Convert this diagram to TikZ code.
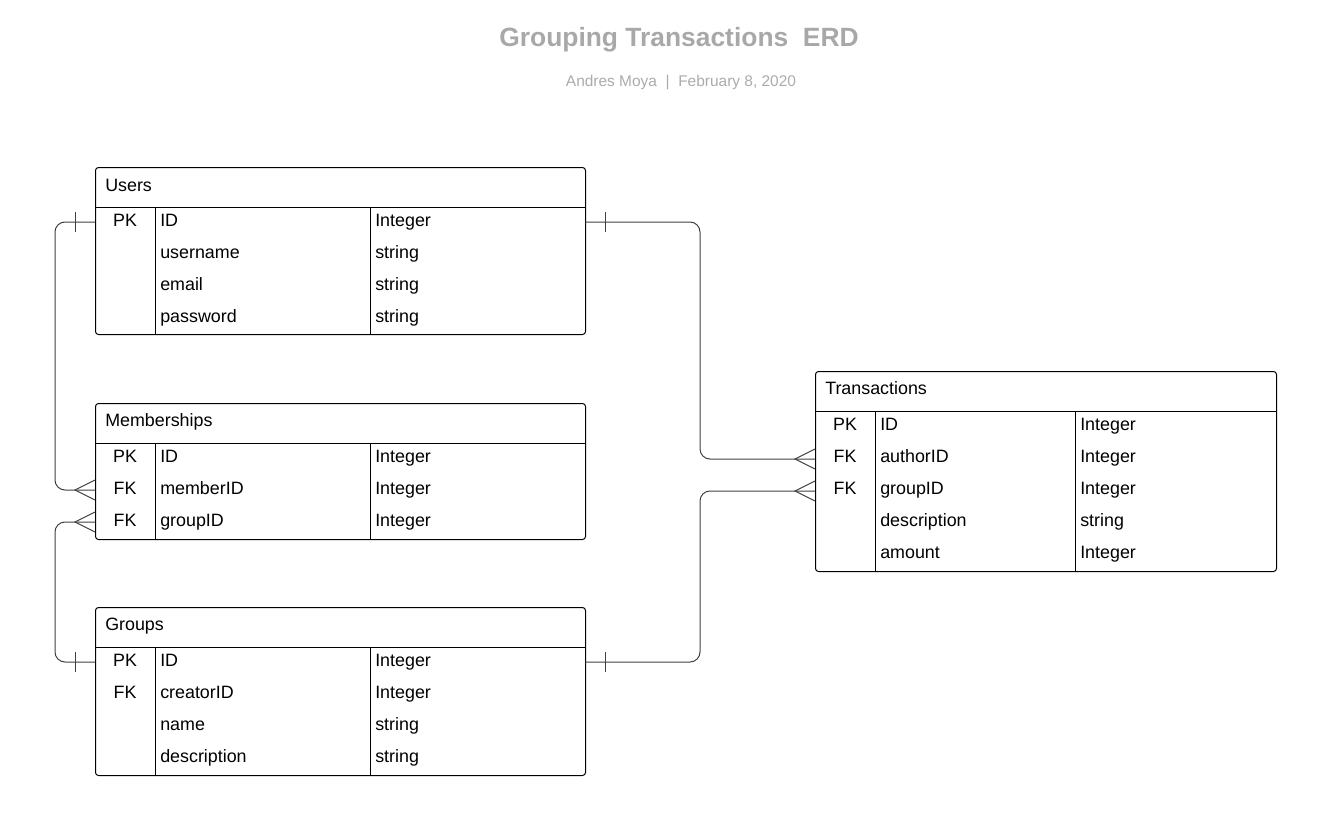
\documentclass[tikz,border=0pt]{standalone}
\usepackage{fontspec}
\setmainfont{Liberation Sans}
\definecolor{titlegray}{HTML}{A8A8A8}
\definecolor{subgray}{HTML}{ABABAB}
\definecolor{linegray}{HTML}{404040}
\begin{document}
\begin{tikzpicture}[x=0.75pt,y=-0.75pt,
  tbl/.style={draw=black, line width=0.75pt, rounded corners=2.25pt, anchor=north west, inner sep=0pt, fill=white},
  rule/.style={draw=black, line width=0.75pt},
  cell/.style={anchor=base west, inner sep=0pt, font=\fontsize{13.4}{15}\selectfont},
  keycell/.style={anchor=base, inner sep=0pt, font=\fontsize{13.4}{15}\selectfont},
  conn/.style={draw=linegray, line width=0.75pt, rounded corners=7.5pt},
  endline/.style={draw=linegray, line width=0.75pt},
]
\useasboundingbox (0,0) rectangle (1329,828);

% title
\node[anchor=base, inner sep=0pt, text=titlegray, font=\fontsize{19.8}{23}\selectfont\bfseries] (title) at (679,46) {Grouping Transactions\ \ ERD};
\node[anchor=base, inner sep=0pt, text=subgray, font=\fontsize{11.6}{14}\selectfont] (subtitle) at (681,86) {Andres Moya\ \ |\ \ February 8, 2020};

% ---------- Users ----------
\node[tbl, minimum width=367.5pt, minimum height=125.25pt] (users) at (95,167) {};
\draw[rule] (95,207) -- (585,207);
\draw[rule] (155,207) -- (155,334);
\draw[rule] (370,207) -- (370,334);
\node[cell] (usersT) at (105,191) {Users};
\node[keycell] (u1k) at (125,226) {PK};
\node[cell] (u1n) at (160,226) {ID};        \node[cell] (u1t) at (375,226) {Integer};
\node[cell] (u2n) at (160,258) {username};  \node[cell] (u2t) at (375,258) {string};
\node[cell] (u3n) at (160,290) {email};     \node[cell] (u3t) at (375,290) {string};
\node[cell] (u4n) at (160,322) {password};  \node[cell] (u4t) at (375,322) {string};

% ---------- Memberships ----------
\node[tbl, minimum width=367.5pt, minimum height=102pt] (memberships) at (95,403) {};
\draw[rule] (95,443) -- (585,443);
\draw[rule] (155,443) -- (155,539);
\draw[rule] (370,443) -- (370,539);
\node[cell] (memT) at (105,426) {Memberships};
\node[keycell] (m1k) at (125,462) {PK};
\node[keycell] (m2k) at (125,494) {FK};
\node[keycell] (m3k) at (125,526) {FK};
\node[cell] (m1n) at (160,462) {ID};        \node[cell] (m1t) at (375,462) {Integer};
\node[cell] (m2n) at (160,494) {memberID};  \node[cell] (m2t) at (375,494) {Integer};
\node[cell] (m3n) at (160,526) {groupID};   \node[cell] (m3t) at (375,526) {Integer};

% ---------- Groups ----------
\node[tbl, minimum width=367.5pt, minimum height=126pt] (groups) at (95,607) {};
\draw[rule] (95,647) -- (585,647);
\draw[rule] (155,647) -- (155,775);
\draw[rule] (370,647) -- (370,775);
\node[cell] (grpT) at (105,630) {Groups};
\node[keycell] (g1k) at (125,666) {PK};
\node[keycell] (g2k) at (125,698) {FK};
\node[cell] (g1n) at (160,666) {ID};          \node[cell] (g1t) at (375,666) {Integer};
\node[cell] (g2n) at (160,698) {creatorID};   \node[cell] (g2t) at (375,698) {Integer};
\node[cell] (g3n) at (160,730) {name};        \node[cell] (g3t) at (375,730) {string};
\node[cell] (g4n) at (160,762) {description}; \node[cell] (g4t) at (375,762) {string};

% ---------- Transactions ----------
\node[tbl, minimum width=345.75pt, minimum height=150pt] (transactions) at (815,371) {};
\draw[rule] (815,411) -- (1276,411);
\draw[rule] (875,411) -- (875,571);
\draw[rule] (1075,411) -- (1075,571);
\node[cell] (trT) at (825,394) {Transactions};
\node[keycell] (t1k) at (845,430) {PK};
\node[keycell] (t2k) at (845,462) {FK};
\node[keycell] (t3k) at (845,494) {FK};
\node[cell] (t1n) at (880,430) {ID};          \node[cell] (t1t) at (1080,430) {Integer};
\node[cell] (t2n) at (880,462) {authorID};    \node[cell] (t2t) at (1080,462) {Integer};
\node[cell] (t3n) at (880,494) {groupID};     \node[cell] (t3t) at (1080,494) {Integer};
\node[cell] (t4n) at (880,526) {description}; \node[cell] (t4t) at (1080,526) {string};
\node[cell] (t5n) at (880,558) {amount};      \node[cell] (t5t) at (1080,558) {Integer};

% ---------- connector end points ----------
\coordinate (uPKl) at (95,222);
\coordinate (uPKr) at (585,222);
\coordinate (mMem) at (95,490);
\coordinate (mGrp) at (95,522);
\coordinate (gPKl) at (95,662);
\coordinate (gPKr) at (585,662);
\coordinate (tAuth) at (815,459);
\coordinate (tGrp) at (815,491);

% ---------- connectors ----------
\draw[conn] (uPKl) -- ++(-40,0) |- (mMem);
\draw[conn] (mGrp) -- ++(-40,0) |- (gPKl);
\draw[conn] (uPKr) -- ++(115,0) |- (tAuth);
\draw[conn] (gPKr) -- ++(115,0) |- (tGrp);

% one-bars
\draw[endline] (uPKl) ++(-20,-10) -- ++(0,20);
\draw[endline] (gPKl) ++(-20,-10) -- ++(0,20);
\draw[endline] (uPKr) ++(20,-10) -- ++(0,20);
\draw[endline] (gPKr) ++(20,-10) -- ++(0,20);

% crow's feet
\draw[endline] (mMem) ++(0,-10) -- ++(-20,10) -- ++(20,10);
\draw[endline] (mGrp) ++(0,-10) -- ++(-20,10) -- ++(20,10);
\draw[endline] (tAuth) ++(0,-10) -- ++(-20,10) -- ++(20,10);
\draw[endline] (tGrp) ++(0,-10) -- ++(-20,10) -- ++(20,10);
\end{tikzpicture}
\end{document}
